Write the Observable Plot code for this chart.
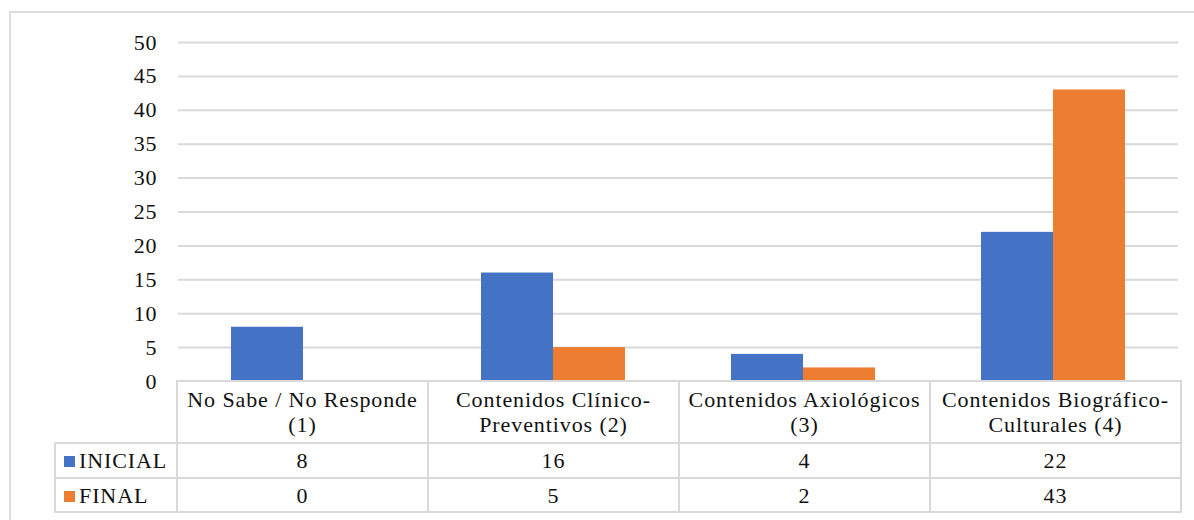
<!DOCTYPE html>
<html>
<head>
<meta charset="utf-8">
<script src="https://cdn.jsdelivr.net/npm/d3@7"></script>
<script src="https://cdn.jsdelivr.net/npm/@observablehq/plot@0.6"></script>
<style>
  html, body { margin: 0; padding: 0; background: #fff; }
  #wrap { position: relative; width: 1194px; height: 520px; overflow: hidden; font-family: "Liberation Serif", "DejaVu Serif", serif; }
  #frame { position: absolute; left: 9px; top: 11px; width: 1200px; height: 540px; border: 2px solid #dcdcdc; box-sizing: border-box; }
  #chart { position: absolute; left: 0; top: 0; }
  #tbl { position: absolute; left: 54px; top: 380px; border-collapse: collapse; table-layout: fixed; font-family: "Liberation Serif", "DejaVu Serif", serif; font-size: 22px; letter-spacing: 0.9px; color: #111; }
  #tbl td { border: 2px solid #d9d9d9; text-align: center; padding: 0; white-space: pre-line; line-height: 25px; }
  #tbl td.blank { border: none; }
  #tbl tr.head td { height: 60px; }
  #tbl tr.r1 td { height: 33px; }
  #tbl tr.r2 td { height: 32px; }
  #tbl td.lab { text-align: left; padding-left: 8px; white-space: nowrap; }
  .sw { display: inline-block; width: 11px; height: 11px; margin-right: 4px; vertical-align: 1px; }
</style>
</head>
<body>
<div id="wrap">
  <div id="frame"></div>
  <div id="chart"></div>
  <table id="tbl"></table>
</div>
<script>
const categories = [
  "No Sabe / No Responde\n(1)",
  "Contenidos Clínico-\nPreventivos (2)",
  "Contenidos Axiológicos\n(3)",
  "Contenidos Biográfico-\nCulturales (4)"
];
const series = ["INICIAL", "FINAL"];
const inicial = [8, 16, 4, 22];
const final = [0, 5, 2, 43];
const colors = ["#4472C4", "#ED7D31"];
const yTicks = [0, 5, 10, 15, 20, 25, 30, 35, 40, 45, 50];

const valuesBySeries = [inicial, final];
const data = [];
categories.forEach((c, i) => {
  series.forEach((s, j) => data.push({cat: c, series: s, value: valuesBySeries[j][i]}));
});

const chart = Plot.plot({
  width: 1194,
  height: 398,
  marginLeft: 176,
  marginRight: 15,
  marginTop: 42,
  marginBottom: 17,
  style: {fontFamily: "'Liberation Serif', 'DejaVu Serif', serif", fontSize: "22px", letterSpacing: "0.9px", color: "#111", background: "transparent", overflow: "visible"},
  fx: {domain: categories, padding: 0, axis: null},
  x: {domain: series, paddingInner: 0, paddingOuter: 0.72, axis: null},
  y: {domain: [0, 50], ticks: yTicks, axis: null},
  color: {domain: series, range: colors},
  marks: [
    Plot.gridY(yTicks.filter(d => d > 0), {stroke: "#d9d9d9", strokeOpacity: 1, strokeWidth: 2}),
    Plot.barY(data, {fx: "cat", x: "series", y: "value", fill: "series"}),
    Plot.axisY(yTicks, {tickSize: 0, tickPadding: 21, label: null, fontSize: 22, fontFamily: "'Liberation Serif', 'DejaVu Serif', serif", facetAnchor: "left"})
  ]
});
document.getElementById("chart").appendChild(chart);

// data table below the chart
const tbl = document.getElementById("tbl");
const colgroup = document.createElement("colgroup");
[122, 251, 251, 251, 251].forEach(w => {
  const col = document.createElement("col");
  col.style.width = w + "px";
  colgroup.appendChild(col);
});
tbl.appendChild(colgroup);
const head = document.createElement("tr");
head.className = "head";
const blank = document.createElement("td");
blank.className = "blank";
head.appendChild(blank);
categories.forEach(c => {
  const td = document.createElement("td");
  td.textContent = c;
  head.appendChild(td);
});
tbl.appendChild(head);
series.forEach((s, j) => {
  const tr = document.createElement("tr");
  tr.className = "r" + (j + 1);
  const lab = document.createElement("td");
  lab.className = "lab";
  const sw = document.createElement("span");
  sw.className = "sw";
  sw.style.background = colors[j];
  lab.appendChild(sw);
  lab.appendChild(document.createTextNode(s));
  tr.appendChild(lab);
  valuesBySeries[j].forEach(v => {
    const td = document.createElement("td");
    td.textContent = v;
    tr.appendChild(td);
  });
  tbl.appendChild(tr);
});
</script>
</body>
</html>
